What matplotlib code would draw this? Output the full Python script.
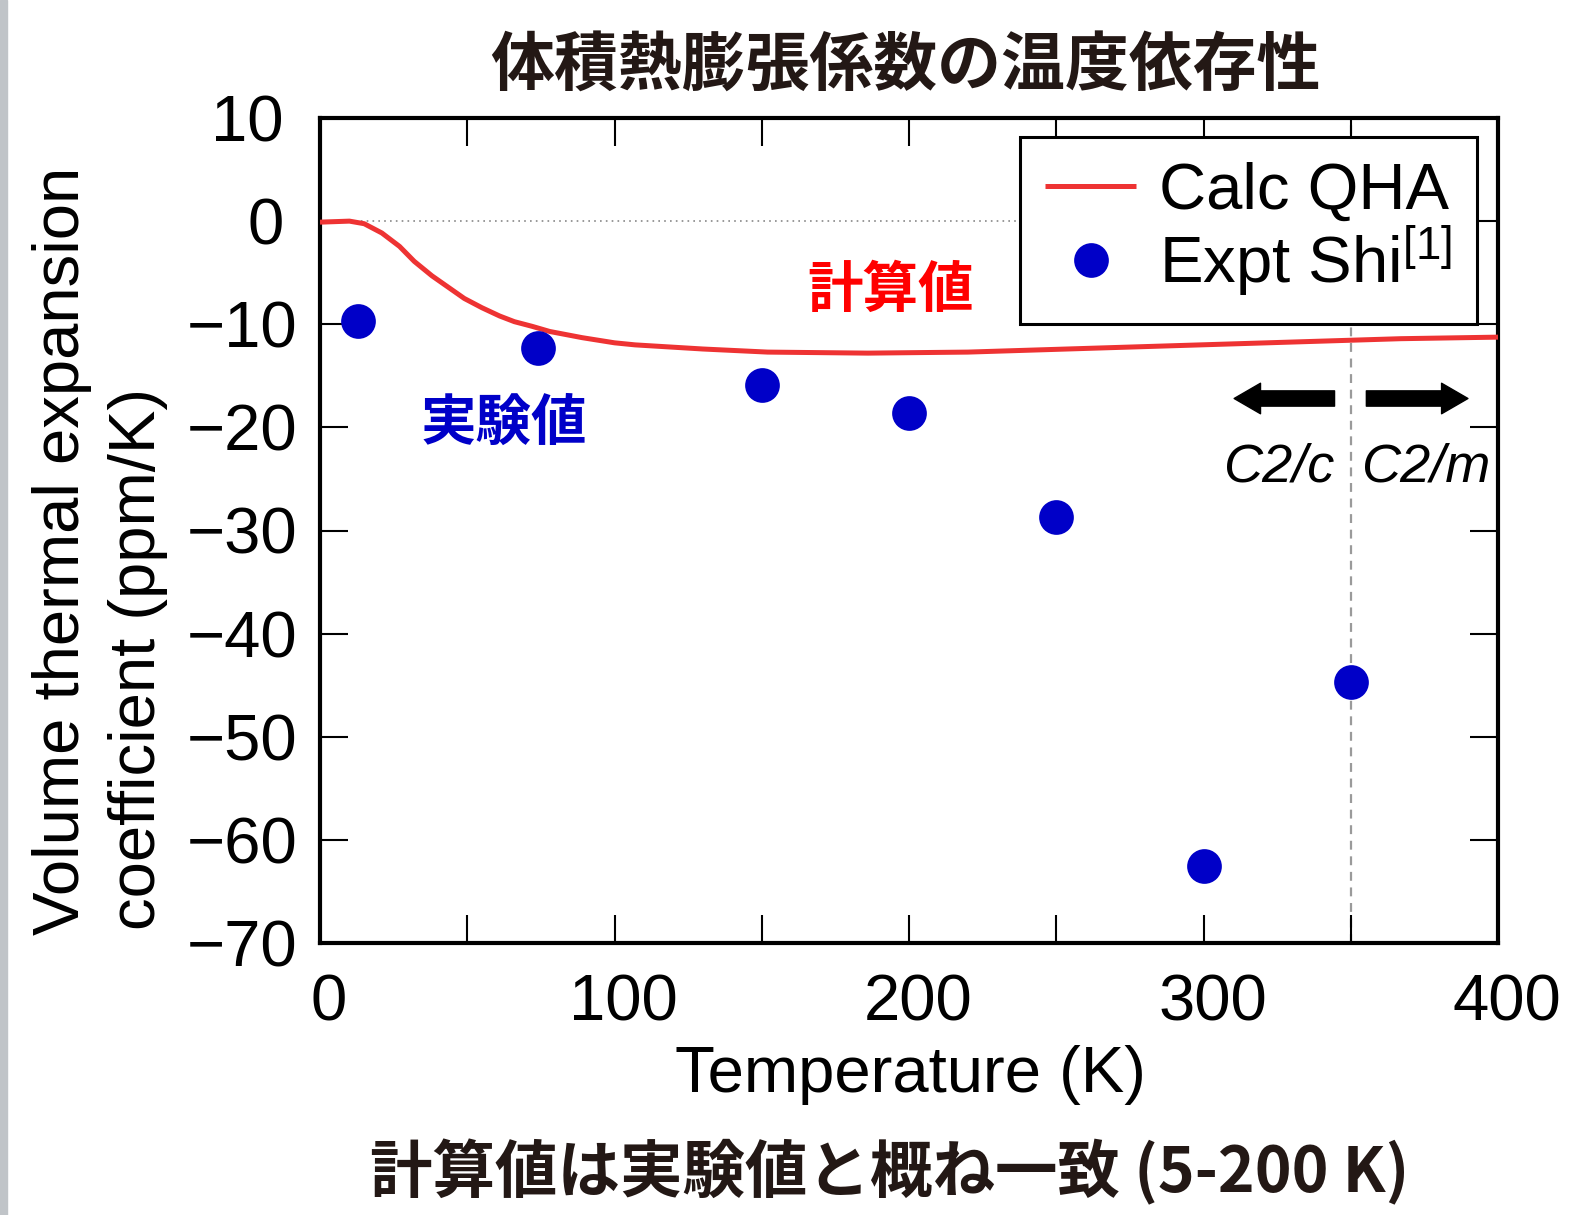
import matplotlib
matplotlib.use("Agg")
import matplotlib.pyplot as plt
from matplotlib.patches import Rectangle
from matplotlib.ticker import MultipleLocator, FixedLocator
from matplotlib.transforms import ScaledTranslation

# QHA calculation: temperature (K) vs volume thermal expansion (ppm/K)
calc_T = [0, 10, 15, 21, 27, 32, 38, 44, 49, 55, 61, 66, 72, 78, 89, 100,
          107, 130, 152, 186, 220, 265, 299, 333, 367, 400]
calc_alpha = [-0.1, 0.0, -0.25, -1.15, -2.45, -3.9, -5.3, -6.5, -7.5, -8.4,
              -9.2, -9.75, -10.2, -10.7, -11.3, -11.8, -12.0, -12.4, -12.7,
              -12.8, -12.7, -12.3, -12.0, -11.7, -11.4, -11.25]

# Experimental values (Shi)
expt_T = [13, 74, 150, 200, 250, 300, 350]
expt_alpha = [-9.7, -12.3, -15.9, -18.6, -28.7, -62.5, -44.7]

x_ticks = [0, 100, 200, 300, 400]
y_ticks = [10, 0, -10, -20, -30, -40, -50, -60, -70]
phase_boundary = 350

LATIN = "Liberation Sans"
CJK = ["Noto Sans CJK JP", "DejaVu Sans"]
FS = 47

plt.rcParams["font.family"] = [LATIN, "DejaVu Sans"]
plt.rcParams["mathtext.fontset"] = "custom"
plt.rcParams["mathtext.rm"] = LATIN
plt.rcParams["mathtext.it"] = LATIN + ":italic"

fig = plt.figure(figsize=(15.69, 12.15), dpi=100)
W, H = 1569, 1215

# grey strip along the left edge
fig.patches.append(Rectangle((0, 0), 7 / W, 1, transform=fig.transFigure,
                             color="#c0c4c8", zorder=0))

ax = fig.add_axes([320 / W, 1 - 943 / H, (1498 - 320) / W, (943 - 118) / H])
ax.set_xlim(0, 400)
ax.set_ylim(-70, 10)

ax.axhline(0, color="#888888", lw=1.2, ls=(0, (1, 2.5)), zorder=1)
ax.axvline(phase_boundary, color="#9a9a9a", lw=1.6, ls=(0, (4, 3)), zorder=1)

ax.plot(calc_T, calc_alpha, color="#ee3333", lw=3.6, label="Calc QHA",
        zorder=3, solid_capstyle="butt", solid_joinstyle="round")
ax.plot(expt_T, expt_alpha, "o", color="#0000c8", ms=25, mec="none",
        label=r"Expt Shi$^{\mathregular{[1]}}$", zorder=4)

# spines and ticks
for s in ax.spines.values():
    s.set_linewidth(3.0)
ax.xaxis.set_major_locator(FixedLocator(x_ticks))
ax.xaxis.set_minor_locator(MultipleLocator(50))
ax.yaxis.set_major_locator(FixedLocator(y_ticks))
ax.tick_params(which="both", direction="in", length=20, width=1.5,
               top=True, right=True)
ax.tick_params(axis="x", which="major", labelsize=FS, pad=22)
ax.tick_params(axis="y", which="major", labelsize=FS, pad=16)
ax.set_xticklabels([str(v) for v in x_ticks])
ax.set_yticklabels([f"\u2212{abs(v)}" if v < 0 else str(v) for v in y_ticks])
for lab in ax.get_xticklabels():
    lab.set_transform(lab.get_transform() +
                      ScaledTranslation(0.09, 0, fig.dpi_scale_trans))
for lab, v in zip(ax.get_yticklabels(), y_ticks):
    if v >= 0:
        lab.set_transform(lab.get_transform() +
                          ScaledTranslation(-0.14, 0, fig.dpi_scale_trans))

leg = ax.legend(loc="upper right", bbox_to_anchor=(0.9822, 0.977),
                borderaxespad=0, fontsize=FS, frameon=True, fancybox=False,
                edgecolor="black", framealpha=1, handlelength=1.4,
                handletextpad=0.35, labelspacing=0.02, borderpad=0.38,
                markerscale=1.0)
leg.get_frame().set_linewidth(2.2)
leg.set_zorder(5)

# phase annotations
ax.annotate("", xy=(310.4, -17.2), xytext=(344.5, -17.2),
            arrowprops=dict(width=11, headwidth=22, headlength=19,
                            color="black", shrink=0), zorder=4)
ax.annotate("", xy=(389.8, -17.2), xytext=(355.3, -17.2),
            arrowprops=dict(width=11, headwidth=22, headlength=19,
                            color="black", shrink=0), zorder=4)
ax.text(325.5, -23.9, "C2/c", fontsize=39, style="italic",
        ha="center", va="center", family=LATIN)
ax.text(375.6, -23.9, "C2/m", fontsize=39, style="italic",
        ha="center", va="center", family=LATIN)

ax.text(193.9, -6.8, "計算値", fontsize=40, fontweight="bold",
        color="#ff0000", ha="center", va="center", family=CJK)
ax.text(62.5, -19.7, "実験値", fontsize=40, fontweight="bold",
        color="#0000c8", ha="center", va="center", family=CJK)

# titles and axis labels
dark = "#231815"
fig.text(905 / W, 1 - 66 / H, "体積熱膨張係数の温度依存性", fontsize=46,
         fontweight="bold", color=dark, ha="center", va="center", family=CJK)
fig.text(910 / W, 1 - 1075 / H, "Temperature (K)", fontsize=FS,
         ha="center", va="center")
fig.text(62 / W, 1 - 935 / H, "Volume thermal expansion", fontsize=FS,
         rotation=90, ha="center", va="bottom")
fig.text(138 / W, 1 - 930 / H, "coefficient (ppm/K)", fontsize=FS,
         rotation=90, ha="center", va="bottom")
fig.text(890 / W, 1 - 1172 / H, "計算値は実験値と概ね一致 (5-200 K)",
         fontsize=45, fontweight="bold", color=dark, ha="center",
         va="center", family=CJK)

fig.savefig("out.png", dpi=100)
